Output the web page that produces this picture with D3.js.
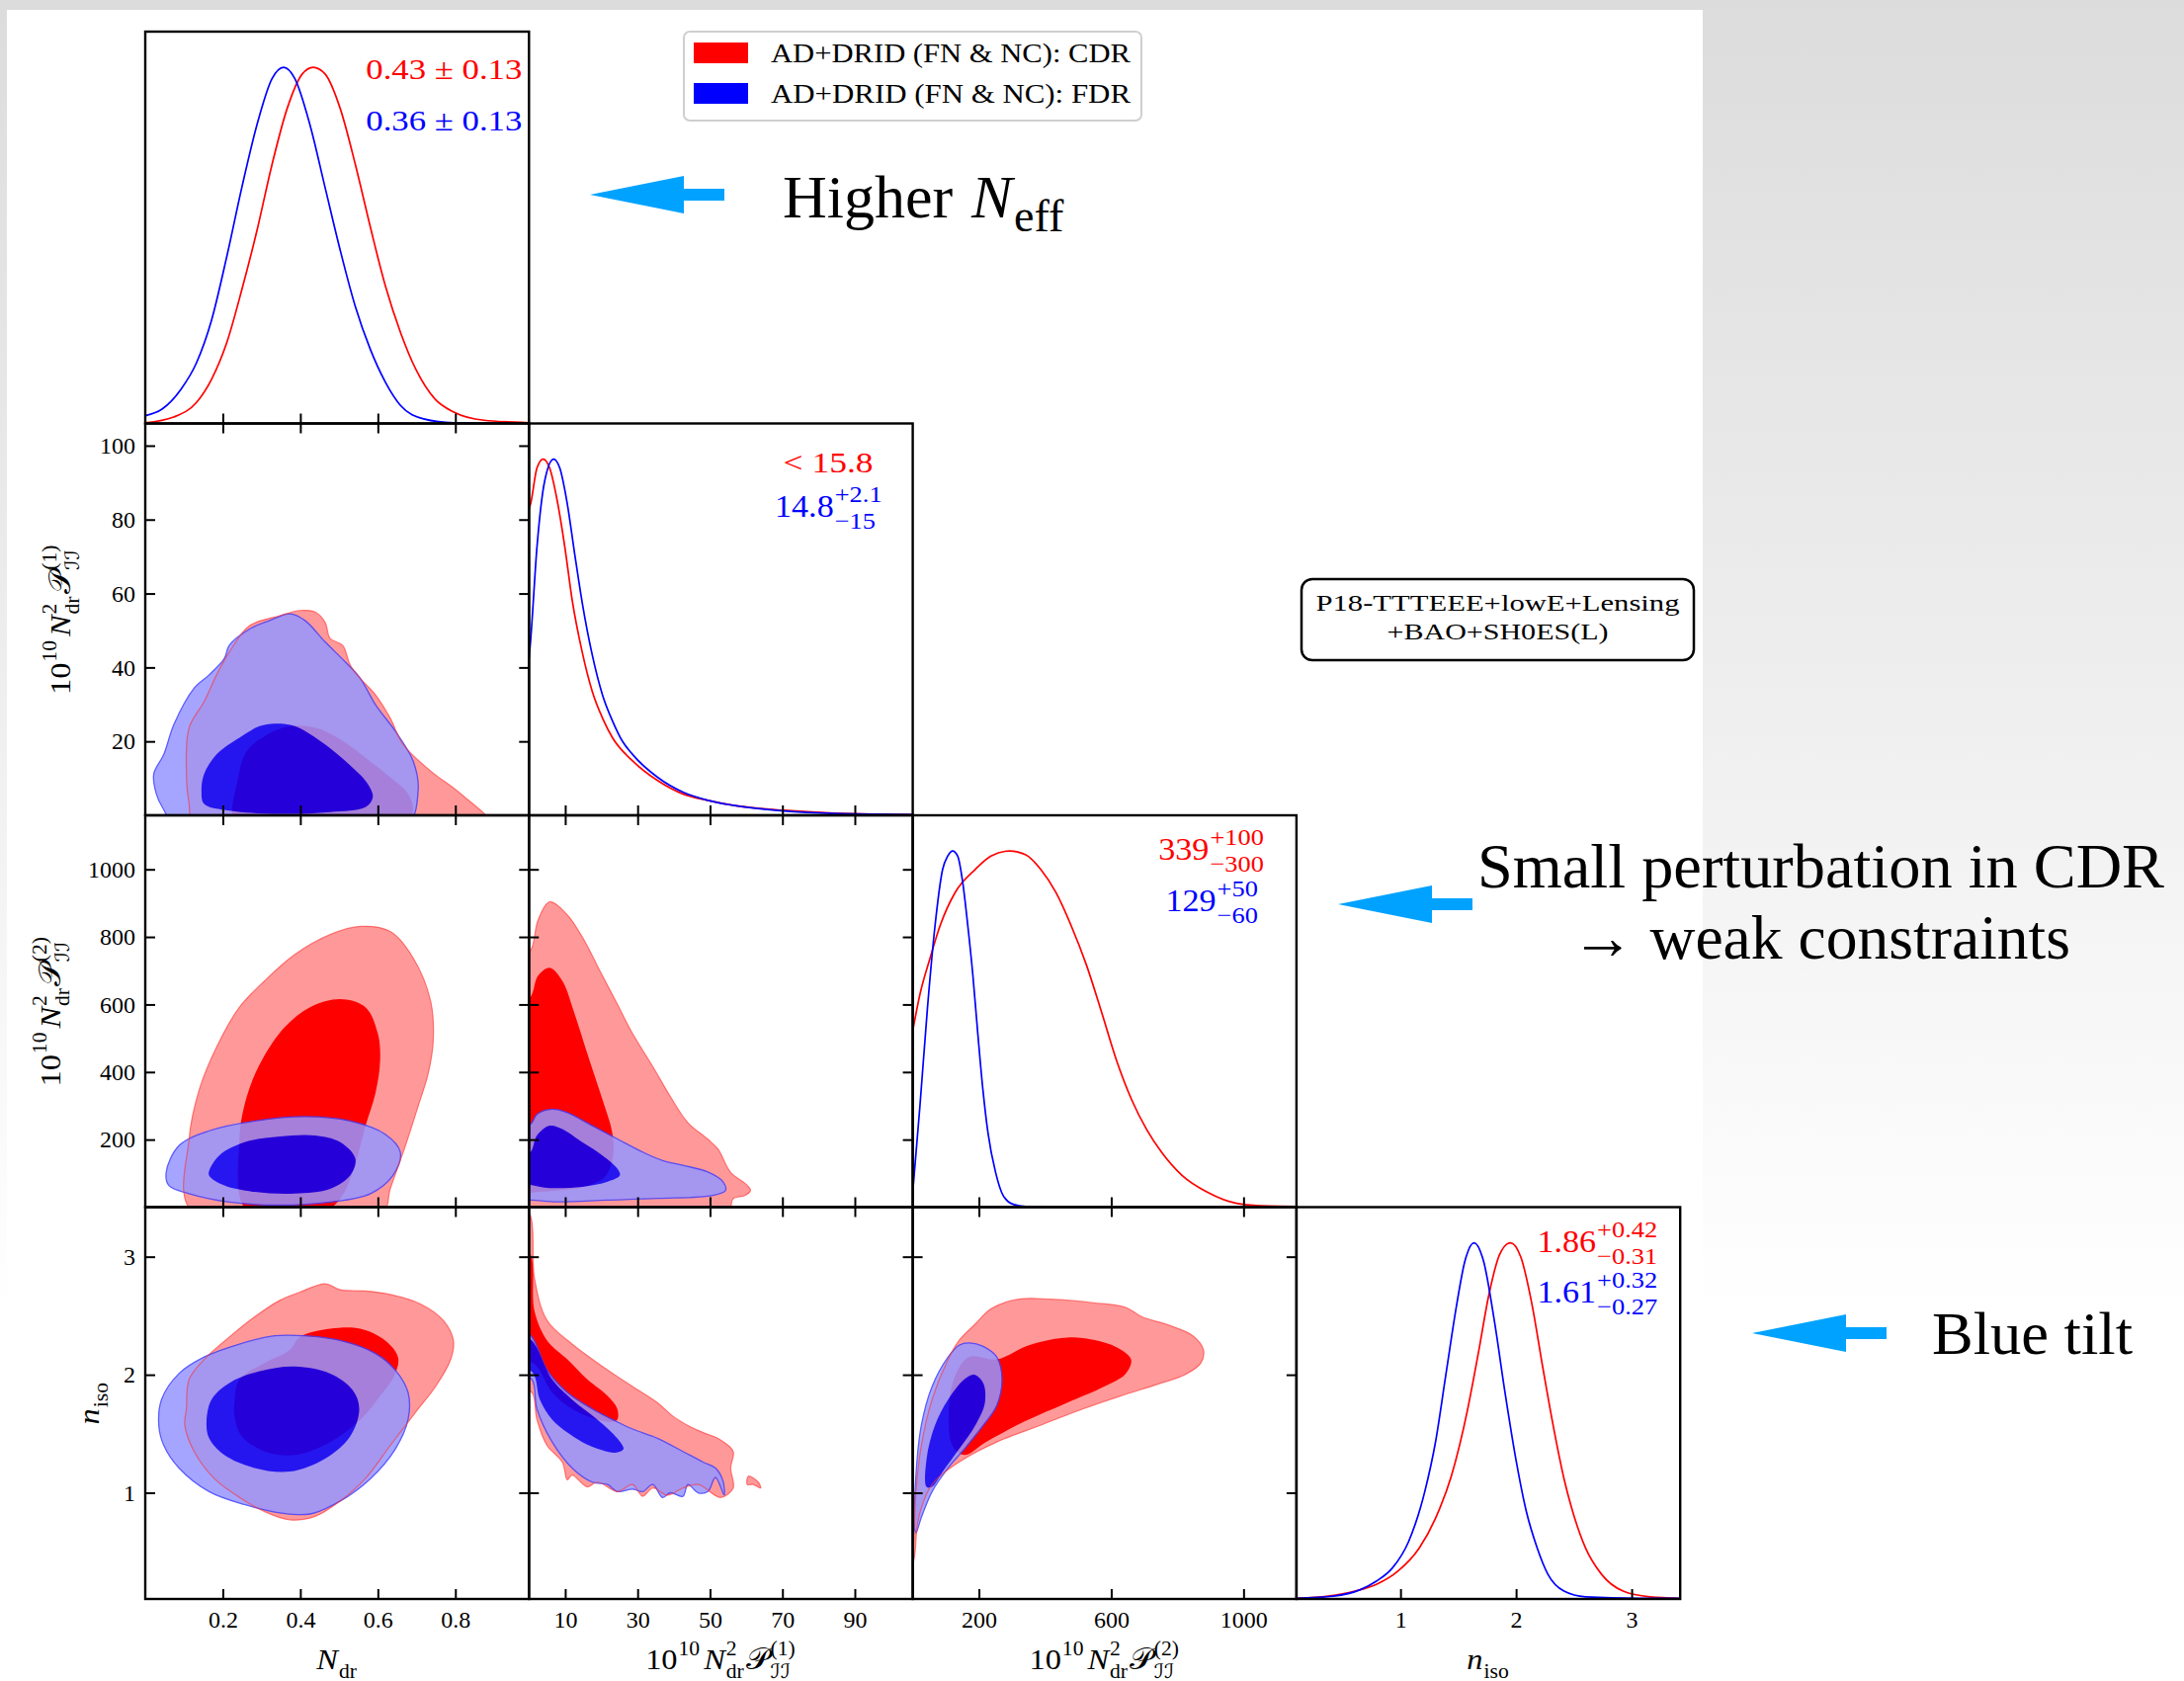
<!DOCTYPE html>
<html><head><meta charset="utf-8">
<script src="https://cdn.jsdelivr.net/npm/d3@7"></script>
<style>body{margin:0;padding:0;overflow:hidden;background:#fff}</style>
</head><body>
<svg id="chart" width="2210" height="1701" xmlns="http://www.w3.org/2000/svg"></svg>
<script>
// ================= DATA =================
const seriesNames = ["AD+DRID (FN & NC): CDR", "AD+DRID (FN & NC): FDR"];
const paramDomains = [[0, 0.99], [0, 106], [0, 1160], [0.1, 3.42]];
const xTickValues = [[0.2, 0.4, 0.6, 0.8], [10, 30, 50, 70, 90], [200, 600, 1000], [1, 2, 3]];
const yTickValues = [[], [20, 40, 60, 80, 100], [200, 400, 600, 800, 1000], [1, 2, 3]];
const tickFormats = [".1f", "d", "d", "d"];

// 1D marginal posteriors (normalised to peak = 1)
const ndr1D_CDR = [[0,0.002],[0.073,0.018],[0.132,0.059],[0.171,0.124],[0.210,0.226],[0.249,0.375],[0.288,0.541],[0.327,0.727],[0.366,0.884],[0.405,0.981],[0.433,1.0],[0.464,0.981],[0.503,0.884],[0.542,0.727],[0.581,0.55],[0.620,0.384],[0.659,0.254],[0.698,0.152],[0.747,0.069],[0.796,0.032],[0.874,0.009],[0.99,0.002]];
const ndr1D_FDR = [[0,0.022],[0.044,0.041],[0.092,0.096],[0.132,0.170],[0.171,0.29],[0.210,0.467],[0.249,0.662],[0.288,0.838],[0.327,0.968],[0.357,1.0],[0.386,0.968],[0.425,0.838],[0.464,0.662],[0.503,0.486],[0.542,0.328],[0.581,0.207],[0.620,0.115],[0.659,0.05],[0.718,0.013],[0.796,0.002],[0.99,0.0]];
const p1_1D_CDR = [[0,0.86],[0.4,0.873],[2.2,0.975],[3.9,1.0],[5.7,0.975],[7.8,0.883],[9.9,0.753],[11.9,0.606],[14.7,0.458],[17.5,0.347],[20.3,0.273],[23.1,0.217],[28.6,0.153],[35.6,0.097],[42.5,0.060],[49.4,0.042],[56.4,0.028],[70.3,0.014],[84.2,0.006],[98.1,0.003],[106,0.002]];
const p1_1D_FDR = [[0,0.44],[0.4,0.485],[2.2,0.753],[4.3,0.937],[6.8,1.0],[8.5,0.975],[10.6,0.873],[12.6,0.735],[14.7,0.597],[17.5,0.449],[20.3,0.338],[23.1,0.264],[25.8,0.208],[28.6,0.171],[35.6,0.106],[42.5,0.065],[49.4,0.042],[56.4,0.028],[70.3,0.012],[84.2,0.005],[106,0.002]];
const p2_1D_CDR = [[0,0.495],[21.7,0.597],[52,0.698],[82.6,0.79],[128,0.883],[189,0.948],[235,0.985],[293,1.0],[342,0.989],[387,0.948],[433,0.883],[479,0.79],[525,0.68],[570,0.55],[616,0.412],[662,0.301],[707,0.218],[753,0.153],[814,0.089],[890,0.042],[982,0.010],[1073,0.003],[1160,0.002]];
const p2_1D_FDR = [[0,0.042],[21.7,0.283],[44.6,0.56],[67.4,0.79],[90.3,0.948],[105.5,0.985],[120.7,1.0],[136,0.985],[151.2,0.911],[166.5,0.79],[181.7,0.652],[196.9,0.485],[212.2,0.329],[227.4,0.209],[250.3,0.098],[273.1,0.033],[303.6,0.008],[341.7,0.002],[400,0.001]];
const niso1D_CDR = [[0.104,0.002],[0.374,0.008],[0.606,0.022],[0.791,0.041],[0.977,0.078],[1.162,0.143],[1.302,0.226],[1.441,0.346],[1.580,0.531],[1.673,0.689],[1.766,0.856],[1.858,0.967],[1.951,1.0],[2.044,0.957],[2.137,0.828],[2.23,0.652],[2.322,0.485],[2.415,0.337],[2.508,0.226],[2.601,0.143],[2.74,0.069],[2.926,0.022],[3.158,0.006],[3.42,0.002]];
const niso1D_FDR = [[0.104,0.002],[0.42,0.008],[0.652,0.026],[0.791,0.05],[0.930,0.087],[1.07,0.161],[1.209,0.3],[1.302,0.439],[1.394,0.633],[1.487,0.828],[1.557,0.948],[1.636,1.0],[1.719,0.948],[1.812,0.781],[1.905,0.578],[1.998,0.393],[2.09,0.244],[2.183,0.143],[2.276,0.069],[2.415,0.022],[2.601,0.006],[3.065,0.002],[3.42,0.002]];

// 2D contours [x, y] (68% inner / 95% outer)
const p1VsNdr_CDR_95 = [[0.132,-3],[0.112,4],[0.106,12],[0.113,23.7],[0.152,30.8],[0.184,38],[0.217,44.2],[0.269,51.3],[0.347,54],[0.399,55.4],[0.438,55],[0.464,52.2],[0.477,47.8],[0.509,46],[0.529,40.6],[0.555,37],[0.594,32.6],[0.632,26.3],[0.665,19.2],[0.736,12],[0.814,5.8],[0.892,-3]];
const p1VsNdr_CDR_68 = [[0.236,-3],[0.240,10.3],[0.262,17.4],[0.308,21.4],[0.373,24.1],[0.438,23.7],[0.503,20.5],[0.568,15.6],[0.632,10.3],[0.678,5.8],[0.691,1.3],[0.671,-3]];
const p1VsNdr_FDR_95 = [[0.085,-3],[0.045,2],[0.028,6],[0.022,11.2],[0.048,16.5],[0.074,24.6],[0.126,34.4],[0.165,38],[0.204,42.4],[0.217,46],[0.269,50.4],[0.321,52.7],[0.373,54.5],[0.412,52.7],[0.464,46.9],[0.516,41.5],[0.555,37],[0.594,29.9],[0.645,22.8],[0.691,14.7],[0.704,6.7],[0.671,-3]];
const p1VsNdr_FDR_68 = [[0.145,6.7],[0.152,11.2],[0.184,16.5],[0.243,21],[0.295,24.1],[0.334,24.8],[0.386,24.1],[0.451,20.1],[0.516,14.7],[0.574,8.5],[0.587,4.9],[0.568,2.2],[0.477,0.9],[0.347,0.4],[0.217,1.3],[0.152,3.1]];

const p2VsNdr_CDR_95 = [[0.119,-10],[0.113,201],[0.139,347],[0.184,474],[0.243,592],[0.308,670],[0.386,748],[0.477,807],[0.555,831],[0.632,816],[0.691,738],[0.736,611],[0.743,494],[0.730,396],[0.704,299],[0.671,181],[0.632,54],[0.613,-10]];
const p2VsNdr_CDR_68 = [[0.262,-10],[0.243,201],[0.262,328],[0.301,435],[0.360,533],[0.425,592],[0.503,616],[0.568,592],[0.600,514],[0.606,435],[0.594,338],[0.568,240],[0.535,103],[0.503,25],[0.464,-10]];
const p2VsNdr_FDR_95 = [[0.054,103],[0.087,182],[0.165,226],[0.282,255],[0.412,268],[0.529,255],[0.619,216],[0.658,163],[0.639,94],[0.581,40],[0.477,15],[0.347,6],[0.217,15],[0.113,40],[0.061,64]];
const p2VsNdr_FDR_68 = [[0.165,108],[0.191,153],[0.256,192],[0.347,209],[0.438,212],[0.503,192],[0.542,143],[0.529,94],[0.477,54],[0.386,40],[0.282,45],[0.204,64],[0.165,93]];

const p2VsP1_CDR_95 = [[-3,-10],[-3,700],[0.8,768],[2.5,850],[5.7,904],[10.6,865],[15.4,787],[19.6,699],[24.4,601],[28.6,514],[34.2,416],[39,328],[43.9,250],[49.4,201],[52.2,172],[55.7,103],[59.8,69],[61.2,50],[59.8,35],[56.4,25],[55,-10]];
const p2VsP1_CDR_68 = [[-3,40],[-3,580],[0.6,625],[2.5,685],[5.7,709],[9.2,670],[12.6,572],[16.1,455],[20.3,318],[23,220],[23.2,150],[21,90],[15,60],[8,50],[2,45]];
const p2VsP1_FDR_95 = [[-3,210],[0.8,250],[2.2,275],[6.4,290],[10.6,280],[17.5,241],[24.4,202],[31.4,163],[36.9,138],[42.5,124],[49.4,104],[53.6,75],[54.3,50],[50.8,35],[35.6,26],[21.7,21],[7.8,16],[0.8,21],[-3,21]];
const p2VsP1_FDR_68 = [[-3,150],[0.4,163],[2.2,212],[5.7,241],[9.2,231],[14.7,192],[20.3,153],[24.4,114],[25.1,94],[21.7,75],[14.7,60],[5,57],[0.8,65],[-3,70]];

const nisoVsNdr_CDR_95 = [[0.106,1.71],[0.113,1.96],[0.152,2.13],[0.217,2.32],[0.282,2.49],[0.347,2.63],[0.399,2.70],[0.464,2.77],[0.503,2.72],[0.568,2.71],[0.632,2.68],[0.710,2.60],[0.769,2.46],[0.795,2.29],[0.788,2.13],[0.749,1.90],[0.697,1.68],[0.632,1.40],[0.568,1.12],[0.503,0.93],[0.438,0.80],[0.373,0.77],[0.308,0.84],[0.243,0.96],[0.178,1.12],[0.126,1.35],[0.102,1.57]];
const nisoVsNdr_CDR_68 = [[0.230,1.76],[0.243,1.96],[0.308,2.10],[0.373,2.21],[0.399,2.32],[0.477,2.39],[0.555,2.39],[0.619,2.29],[0.652,2.15],[0.645,2.01],[0.606,1.82],[0.555,1.62],[0.477,1.43],[0.386,1.32],[0.308,1.35],[0.249,1.48],[0.230,1.65]];
const nisoVsNdr_FDR_95 = [[0.035,1.57],[0.042,1.79],[0.087,2.01],[0.152,2.15],[0.243,2.26],[0.334,2.33],[0.412,2.33],[0.503,2.29],[0.594,2.18],[0.645,2.04],[0.678,1.85],[0.678,1.62],[0.645,1.37],[0.581,1.12],[0.503,0.93],[0.425,0.82],[0.347,0.83],[0.256,0.90],[0.165,1.01],[0.087,1.21],[0.048,1.40]];
const nisoVsNdr_FDR_68 = [[0.158,1.60],[0.171,1.79],[0.217,1.93],[0.295,2.03],[0.386,2.07],[0.477,2.01],[0.535,1.87],[0.552,1.71],[0.529,1.48],[0.464,1.29],[0.373,1.18],[0.282,1.21],[0.204,1.32],[0.165,1.46]];

const nisoVsP1_CDR_95 = [[-3,3.5],[0.4,3.35],[1.5,2.82],[5,2.46],[11.9,2.26],[20.3,2.07],[28.6,1.90],[35.6,1.76],[39.7,1.65],[43.9,1.57],[48.1,1.51],[52.2,1.46],[56.4,1.35],[55.7,1.21],[56.4,1.04],[52.9,0.96],[46.7,1.07],[42.5,1.04],[38.3,0.98],[34.2,1.04],[31.4,0.97],[28.6,1.07],[24.4,1.01],[18.9,1.09],[16.1,1.05],[11.9,1.15],[10.6,1.11],[9.2,1.26],[5,1.40],[2.2,1.62],[0.8,1.85],[-3,1.9]];
const nisoVsP1_CDR_95b = [[60.6,1.14],[63.3,1.09],[64,1.04],[61.9,1.07],[60.3,1.07]];
const nisoVsP1_CDR_68 = [[-3,3.1],[0.4,3.02],[1.5,2.54],[5,2.29],[10.6,2.13],[16.1,1.96],[21.7,1.82],[24.4,1.71],[24.4,1.62],[23,1.60],[18.9,1.62],[11.9,1.71],[6.4,1.85],[2.2,2.07],[-3,2.2]];
const nisoVsP1_FDR_95 = [[-3,2.4],[0.8,2.32],[5,2.04],[10.6,1.85],[17.5,1.71],[24.4,1.60],[28.6,1.54],[35.6,1.46],[42.5,1.35],[48.1,1.26],[51.5,1.21],[53.6,1.10],[53.9,0.98],[51.5,1.13],[49.4,1.01],[46.7,1.0],[43.9,1.07],[42.5,0.97],[39,1.0],[36.9,0.96],[34.2,1.07],[31.4,1.01],[28.6,1.03],[24.4,1.01],[21.7,1.07],[17.5,1.09],[11.9,1.21],[6.4,1.43],[2.2,1.71],[0.8,1.96],[-3,2.0]];
const nisoVsP1_FDR_68 = [[-3,2.35],[0.8,2.29],[6.4,1.96],[11.9,1.79],[18.9,1.62],[24.4,1.46],[26.1,1.37],[23.9,1.34],[20.3,1.36],[14.7,1.43],[10.6,1.51],[6.4,1.62],[3,1.79],[1.2,2.01],[-3,2.1]];

const nisoVsP2_CDR_95 = [[-5,0.35],[3,0.6],[9.8,1.01],[26,1.40],[58.5,1.79],[107,2.13],[140,2.29],[189,2.43],[237,2.56],[319,2.64],[416,2.64],[546,2.61],[644,2.57],[693,2.49],[774,2.42],[847,2.33],[879,2.21],[871,2.10],[823,2.00],[741,1.92],[628,1.82],[514,1.71],[384,1.57],[254,1.43],[140,1.26],[58.5,1.07],[18,0.79],[5,0.45]];
const nisoVsP2_CDR_68 = [[110,1.75],[130,2.0],[170,2.15],[254,2.13],[351,2.25],[449,2.31],[514,2.31],[611,2.24],[660,2.13],[644,2.01],[579,1.90],[465,1.76],[335,1.60],[221,1.43],[156,1.32],[120,1.40]];
const nisoVsP2_FDR_95 = [[6.5,0.68],[9.8,1.15],[26,1.57],[58.5,1.90],[107,2.15],[140,2.25],[172,2.27],[213,2.24],[254,2.15],[270,1.96],[254,1.74],[213,1.57],[156,1.37],[107,1.21],[58.5,1.01],[26,0.79],[9.8,0.66]];
const nisoVsP2_FDR_68 = [[42,1.05],[42,1.29],[67,1.57],[107,1.79],[156,1.96],[185,2.00],[213,1.93],[218,1.76],[189,1.57],[140,1.37],[91,1.18],[58.5,1.05]];

// marginal statistics text
const statsCDR = [["0.43 ± 0.13"], ["< 15.8"], ["339", "+100", "−300"], ["1.86", "+0.42", "−0.31"]];
const statsFDR = [["0.36 ± 0.13"], ["14.8", "+2.1", "−15"], ["129", "+50", "−60"], ["1.61", "+0.32", "−0.27"]];
const datasetLines = ["P18-TTTEEE+lowE+Lensing", "+BAO+SH0ES(L)"];
const notes = ["Higher", "Small perturbation in CDR", "→ weak constraints", "Blue tilt"];

// ================= LAYOUT =================
const W = 388.3, H = 396.5;
const colX = [147, 535.3, 923.6, 1311.9];
const rowY = [32, 428.5, 825, 1221.5];
const FONT = "'Liberation Serif','DejaVu Serif',serif";
const MATHFONT = "'Liberation Serif','DejaVu Serif','DejaVu Sans','Noto Sans',serif";
const RED = "#ff0000", BLUE = "#0000ff";

const svg = d3.select("#chart");
const defs = svg.append("defs");
const grad = defs.append("linearGradient").attr("id", "bg").attr("x1", 0).attr("y1", 0).attr("x2", 0).attr("y2", 1);
grad.append("stop").attr("offset", 0).attr("stop-color", "#dcdcdc");
grad.append("stop").attr("offset", 0.78).attr("stop-color", "#ffffff");
svg.append("rect").attr("width", 2210).attr("height", 1701).attr("fill", "url(#bg)");
svg.append("rect").attr("width", 2210).attr("height", 10).attr("fill", "#dcdcdc");
svg.append("rect").attr("x", 7).attr("y", 10).attr("width", 1716).attr("height", 1691).attr("fill", "#ffffff");

const xs = paramDomains.map((d, j) => d3.scaleLinear().domain(d).range([colX[j], colX[j] + W]));
const ys = paramDomains.map((d, i) => d3.scaleLinear().domain(d).range([rowY[i] + H, rowY[i]]));
const dens = rowY.map(y0 => d3.scaleLinear().domain([0, 1.1]).range([y0 + H, y0]));

for (let i = 0; i < 4; i++) for (let j = 0; j <= i; j++) {
  defs.append("clipPath").attr("id", `clip${i}${j}`).append("rect")
    .attr("x", colX[j]).attr("y", rowY[i]).attr("width", W).attr("height", H);
}

// ---- 2D panels ----
const panels2D = [
  {i: 1, j: 0, cdr: [[p1VsNdr_CDR_95], p1VsNdr_CDR_68], fdr: [p1VsNdr_FDR_95, p1VsNdr_FDR_68]},
  {i: 2, j: 0, cdr: [[p2VsNdr_CDR_95], p2VsNdr_CDR_68], fdr: [p2VsNdr_FDR_95, p2VsNdr_FDR_68]},
  {i: 2, j: 1, cdr: [[p2VsP1_CDR_95], p2VsP1_CDR_68], fdr: [p2VsP1_FDR_95, p2VsP1_FDR_68]},
  {i: 3, j: 0, cdr: [[nisoVsNdr_CDR_95], nisoVsNdr_CDR_68], fdr: [nisoVsNdr_FDR_95, nisoVsNdr_FDR_68]},
  {i: 3, j: 1, cdr: [[nisoVsP1_CDR_95, nisoVsP1_CDR_95b], nisoVsP1_CDR_68], fdr: [nisoVsP1_FDR_95, nisoVsP1_FDR_68]},
  {i: 3, j: 2, cdr: [[nisoVsP2_CDR_95], nisoVsP2_CDR_68], fdr: [nisoVsP2_FDR_95, nisoVsP2_FDR_68]}
];

panels2D.forEach(p => {
  const g = svg.append("g").attr("clip-path", `url(#clip${p.i}${p.j})`);
  const line = d3.line().x(d => xs[p.j](d[0])).y(d => ys[p.i](d[1])).curve(d3.curveCatmullRomClosed.alpha(0.5));
  p.cdr[0].forEach(poly => g.append("path").attr("d", line(poly)).attr("fill", "#ff9999"));
  g.append("path").attr("d", line(p.cdr[1])).attr("fill", RED);
  const gb = g.append("g").attr("opacity", 0.85);
  gb.append("path").attr("d", line(p.fdr[0])).attr("fill", "#9696ff").attr("stroke", "#4040ff").attr("stroke-width", 1.3);
  gb.append("path").attr("d", line(p.fdr[1])).attr("fill", BLUE);
  p.cdr[0].forEach(poly => g.append("path").attr("d", line(poly)).attr("fill", "none")
    .attr("stroke", "#ff3030").attr("stroke-width", 1.2).attr("opacity", 0.6));
});

// ---- 1D panels ----
const panels1D = [
  {i: 0, cdr: ndr1D_CDR, fdr: ndr1D_FDR},
  {i: 1, cdr: p1_1D_CDR, fdr: p1_1D_FDR},
  {i: 2, cdr: p2_1D_CDR, fdr: p2_1D_FDR},
  {i: 3, cdr: niso1D_CDR, fdr: niso1D_FDR}
];
panels1D.forEach(p => {
  const g = svg.append("g").attr("clip-path", `url(#clip${p.i}${p.i})`);
  const line = d3.line().x(d => xs[p.i](d[0])).y(d => dens[p.i](d[1])).curve(d3.curveMonotoneX);
  g.append("path").attr("d", line(p.cdr)).attr("fill", "none").attr("stroke", RED).attr("stroke-width", 1.7);
  g.append("path").attr("d", line(p.fdr)).attr("fill", "none").attr("stroke", BLUE).attr("stroke-width", 1.7);
});

// ---- axes & frames ----
function styleAxis(sel, labels) {
  sel.select(".domain").remove();
  sel.attr("font-family", FONT).attr("font-size", 24);
  sel.selectAll(".tick line").attr("stroke", "#000").attr("stroke-width", 2);
  sel.selectAll(".tick text").attr("fill", "#000");
  if (!labels) sel.selectAll(".tick text").remove();
}
for (let i = 0; i < 4; i++) for (let j = 0; j <= i; j++) {
  const fx = d3.format(tickFormats[j]);
  svg.append("g").attr("transform", `translate(0,${rowY[i] + H})`)
    .call(d3.axisBottom(xs[j]).tickValues(xTickValues[j]).tickFormat(fx).tickSizeInner(-10).tickSizeOuter(0).tickPadding(12))
    .call(s => styleAxis(s, i === 3));
  if (j < i) {
    const fy = d3.format(tickFormats[i]);
    svg.append("g").attr("transform", `translate(0,${rowY[i]})`)
      .call(d3.axisTop(xs[j]).tickValues(xTickValues[j]).tickSizeInner(-10).tickSizeOuter(0))
      .call(s => styleAxis(s, false));
    svg.append("g").attr("transform", `translate(${colX[j]},0)`)
      .call(d3.axisLeft(ys[i]).tickValues(yTickValues[i]).tickFormat(fy).tickSizeInner(-10).tickSizeOuter(0).tickPadding(10))
      .call(s => styleAxis(s, j === 0));
    svg.append("g").attr("transform", `translate(${colX[j] + W},0)`)
      .call(d3.axisRight(ys[i]).tickValues(yTickValues[i]).tickSizeInner(-10).tickSizeOuter(0))
      .call(s => styleAxis(s, false));
  }
  svg.append("rect").attr("x", colX[j]).attr("y", rowY[i]).attr("width", W).attr("height", H)
    .attr("fill", "none").attr("stroke", "#000").attr("stroke-width", 2.4);
}

// ---- math text helper ----
function mathText(items, x, y, o) {
  const S = o.size || 30, s = o.small || 20, supD = o.sup || 14, subD = o.sub || 9, st = o.stretch || 1;
  const g = svg.append("g");
  const inner = g.append("g").attr("font-family", MATHFONT).attr("fill", o.color || "#000");
  const put = (el) => {
    const L = el.node().getComputedTextLength() * st;
    if (st !== 1) el.attr("textLength", L).attr("lengthAdjust", "spacingAndGlyphs");
    return L;
  };
  let cx = 0;
  items.forEach(it => {
    if (it.gap) { cx += it.gap; return; }
    const t = inner.append("text").attr("x", cx).attr("y", 0).attr("font-size", S)
      .attr("font-style", it.it ? "italic" : "normal").text(it.t);
    cx += put(t);
    let w = 0;
    if (it.sup) {
      const e = inner.append("text").attr("x", cx + 1).attr("y", -supD).attr("font-size", s).text(it.sup);
      w = Math.max(w, put(e));
    }
    if (it.sub) {
      const e = inner.append("text").attr("x", cx + 1).attr("y", subD).attr("font-size", s).text(it.sub);
      w = Math.max(w, put(e));
    }
    if (w) cx += w + 2;
  });
  const total = cx;
  if (o.rotate) {
    g.attr("transform", `translate(${x},${y + total / 2}) rotate(-90)`);
  } else if (o.anchor === "end") {
    g.attr("transform", `translate(${x - total},${y})`);
  } else {
    g.attr("transform", `translate(${x - total / 2},${y})`);
  }
  return g;
}
const powerLabel = k => [{t: "10", sup: "10"}, {gap: 3}, {t: "N", it: true, sup: "2", sub: "dr"}, {gap: 1}, {t: "\u{1D4AB}", sup: `(${k})`, sub: "\u2110\u2110"}];
const paramLabels = [
  [{t: "N", it: true, sub: "dr"}],
  powerLabel(1),
  powerLabel(2),
  [{t: "n", it: true, sub: "iso"}]
];
// x labels
paramLabels.forEach((lab, j) => mathText(lab, colX[j] + W / 2, 1689, {size: 30, small: 20, sup: 14, sub: 9, stretch: 1.08}));
// y labels
const yLabelX = [0, 71, 61, 100];
for (let i = 1; i < 4; i++) mathText(paramLabels[i], yLabelX[i], rowY[i] + H / 2, {size: 30, small: 20, sup: 14, sub: 9, stretch: 1.08, rotate: true});

// ---- marginal statistics ----
function simpleStat(txt, xEnd, base, color, len) {
  svg.append("text").attr("x", xEnd).attr("y", base).attr("text-anchor", "end")
    .attr("font-family", FONT).attr("font-size", 30).attr("fill", color)
    .attr("textLength", len).attr("lengthAdjust", "spacingAndGlyphs").text(txt);
}
function stackStat(arr, xEnd, base, color) {
  mathText([{t: arr[0], sup: arr[1], sub: arr[2]}], xEnd, base, {size: 31, small: 24, sup: 15, sub: 11.5, stretch: 1.1, anchor: "end", color});
}
const R = j => colX[j] + W;
simpleStat(statsCDR[0][0], R(0) - 7, rowY[0] + 48, RED, 158);
simpleStat(statsFDR[0][0], R(0) - 7, rowY[0] + 100, BLUE, 158);
simpleStat(statsCDR[1][0], R(1) - 40, rowY[1] + 49.5, RED, 91);
stackStat(statsFDR[1], R(1) - 30, rowY[1] + 94.5, BLUE);
stackStat(statsCDR[2], R(2) - 32, rowY[2] + 45, RED);
stackStat(statsFDR[2], R(2) - 38, rowY[2] + 97, BLUE);
stackStat(statsCDR[3], R(3) - 22, rowY[3] + 45.5, RED);
stackStat(statsFDR[3], R(3) - 22, rowY[3] + 96.5, BLUE);

// ---- legend ----
const lg = svg.append("g");
lg.append("rect").attr("x", 692).attr("y", 32).attr("width", 463).attr("height", 90).attr("rx", 6)
  .attr("fill", "#fff").attr("stroke", "#cfcfcf").attr("stroke-width", 2);
[RED, BLUE].forEach((c, k) => {
  lg.append("rect").attr("x", 702).attr("y", 43 + 41 * k).attr("width", 55).attr("height", 21).attr("fill", c);
  lg.append("text").attr("x", 780).attr("y", 63 + 40.5 * k).attr("font-family", FONT).attr("font-size", 27)
    .attr("textLength", 364).attr("lengthAdjust", "spacingAndGlyphs").text(seriesNames[k]);
});

// ---- dataset box ----
svg.append("rect").attr("x", 1317).attr("y", 586).attr("width", 397).attr("height", 82).attr("rx", 11)
  .attr("fill", "#fff").attr("stroke", "#000").attr("stroke-width", 2.5);
[[618, 368], [647, 224]].forEach(([b, len], k) => {
  svg.append("text").attr("x", 1515.5).attr("y", b).attr("text-anchor", "middle").attr("font-family", FONT)
    .attr("font-size", 24).attr("textLength", len).attr("lengthAdjust", "spacingAndGlyphs").text(datasetLines[k]);
});

// ---- annotations with arrows ----
function arrow(tx, ty) {
  const p = [[tx, ty], [tx + 95, ty - 19], [tx + 95, ty - 6], [tx + 136, ty - 6], [tx + 136, ty + 6], [tx + 95, ty + 6], [tx + 95, ty + 19]];
  svg.append("path").attr("d", "M" + p.map(q => q.join(",")).join("L") + "Z").attr("fill", "#00a2ff");
}
arrow(597, 197);
arrow(1354, 915);
arrow(1773, 1349);
svg.append("text").attr("x", 792).attr("y", 220).attr("font-family", FONT).attr("font-size", 62).text(notes[0]);
svg.append("text").attr("x", 983).attr("y", 220).attr("font-family", FONT).attr("font-size", 62).attr("font-style", "italic").text("N");
svg.append("text").attr("x", 1026).attr("y", 234).attr("font-family", FONT).attr("font-size", 46).text("eff");
svg.append("text").attr("x", 1495).attr("y", 898).attr("font-family", FONT).attr("font-size", 64)
  .attr("textLength", 695).attr("lengthAdjust", "spacingAndGlyphs").text(notes[1]);
svg.append("text").attr("x", 1590).attr("y", 970).attr("font-family", FONT).attr("font-size", 64)
  .attr("textLength", 505).attr("lengthAdjust", "spacingAndGlyphs").text(notes[2]);
svg.append("text").attr("x", 1955).attr("y", 1370).attr("font-family", FONT).attr("font-size", 62)
  .attr("textLength", 203).attr("lengthAdjust", "spacingAndGlyphs").text(notes[3]);
</script>
</body></html>
